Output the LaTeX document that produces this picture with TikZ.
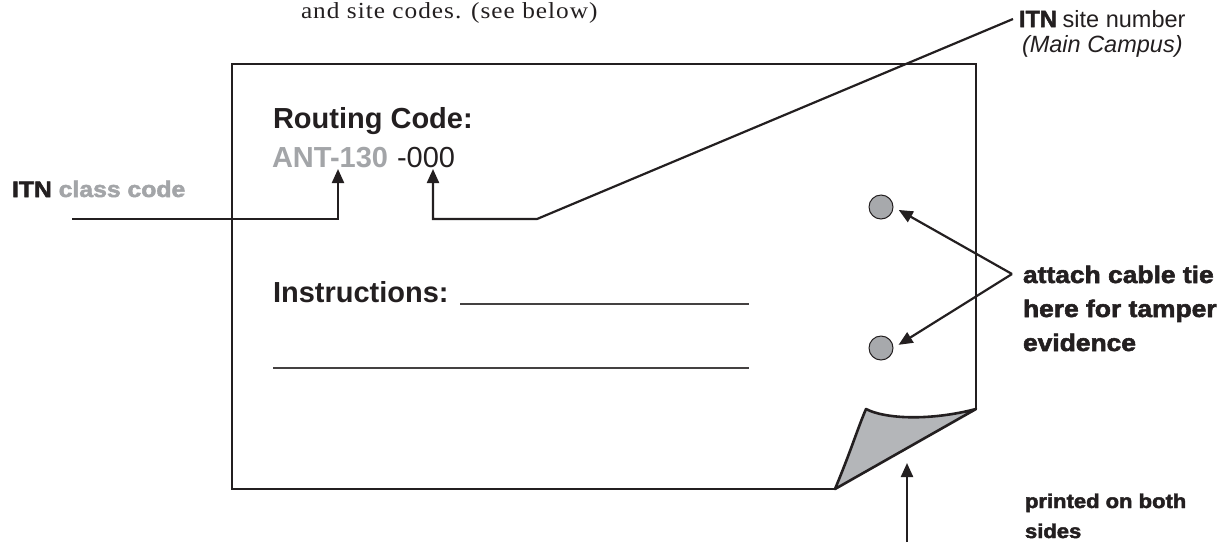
\documentclass[tikz,border=0pt]{standalone}
\usepackage{fontspec}
\usepackage{graphicx}
\setmainfont{Liberation Serif}
\newfontfamily\sans{Liberation Sans}
\newfontfamily\sansheavy[FakeBold=2.2]{Liberation Sans Bold}
\usetikzlibrary{arrows.meta}
\definecolor{ink}{RGB}{35,31,32}
\definecolor{codegray}{RGB}{163,165,168}
\definecolor{curlgray}{RGB}{180,182,185}
\definecolor{holegray}{RGB}{167,169,172}
\newcommand{\fs}[1]{\fontsize{#1}{#1}\selectfont}
% heavy grotesque labels: bold, emboldened and set a little wide
\newcommand{\heavy}[2]{\scalebox{1.1}[1]{\fs{#1}\sansheavy #2}}

\begin{document}
\begin{tikzpicture}[x=1pt,y=-1pt,
  txt/.style={inner sep=0pt, outer sep=0pt, anchor=base west, text=ink},
  cardedge/.style={draw=ink, line width=2.6pt},
  lead/.style={draw=ink, line width=2.2pt, line join=miter},
  pointer/.style={lead, -{Triangle[length=14pt,width=12pt]}},
  blank/.style={draw=ink!85, line width=1.4pt},
  hole/.style={circle, draw=ink, line width=1pt, fill=holegray, minimum size=24pt, inner sep=0pt}]
\useasboundingbox (0,0) rectangle (1217,542);

% header line of the running text
\node[txt] (note) at (301,18) {\scalebox{1.1}[1]{\fs{23}\addfontfeatures{LetterSpace=4}and site codes. (see below)}};

% the tag with its curled corner
\coordinate (foldlow) at (835,489);
\coordinate (foldhigh) at (976,409);
\coordinate (curltip) at (866,409);
\draw[cardedge, line join=miter] (foldlow) -- (232,489) -- (232,64) -- (976,64) -- (foldhigh);
\draw[cardedge, fill=curlgray, line join=round] (foldlow) .. controls (852,448) and (857,430) .. (curltip)
  .. controls (885,419) and (930,421) .. (foldhigh) -- cycle;

% printed fields
\node[txt] (routing) at (273,128) {\fs{29}\sans\bfseries Routing Code:};
\node[txt, text=codegray] (ant) at (272,167) {\fs{29}\sans\bfseries ANT-130};
\node[txt] (site) at (397,167) {\fs{29}\sans -000};
\node[txt] (instr) at (273,302) {\fs{29}\sans\bfseries Instructions:};
\draw[blank] (460,304) -- (749,304);
\draw[blank] (273,368) -- (749,368);

% holes for the cable tie
\node[hole] (hole1) at (881,207) {};
\node[hole] (hole2) at (881,348) {};

% callout labels
\node[txt] (classlbl) at (12,197) {\heavy{22.5}{ITN \textcolor{codegray}{class code}}};
\node[txt] (sitelbl) at (1019,27) {\fs{23.5}{\sansheavy ITN} \sans site number};
\node[txt] (campus) at (1022,52) {\fs{23.5}\sans\itshape (Main Campus)};
\node[txt] (tie1) at (1023,283) {\heavy{24}{attach cable tie}};
\node[txt] (tie2) at (1023,317) {\heavy{24}{here for tamper}};
\node[txt] (tie3) at (1023,351) {\heavy{24}{evidence}};
\node[txt] (both1) at (1025,508) {\heavy{20}{printed on both}};
\node[txt] (both2) at (1025,538) {\heavy{20}{sides}};

% leader lines
\coordinate (classstart) at (72,219);
\coordinate (classtip) at (338,169);
\coordinate (sitefoot) at (1013,19);
\coordinate (sitebend) at (537,219);
\coordinate (sitetip) at (433,169);
\coordinate (tiejoin) at (1012,274);
\coordinate (bothfoot) at (907,542);
\coordinate (bothtip) at (907,463);

\draw[pointer] (classstart) -| (classtip);
\draw[pointer] (sitefoot) -- (sitebend) -| (sitetip);
\draw[pointer, shorten >=6pt] (tiejoin) -- (hole1.east);
\draw[pointer, shorten >=6pt] (tiejoin) -- (hole2.east);
\draw[pointer] (bothfoot) -- (bothtip);
\end{tikzpicture}
\end{document}
